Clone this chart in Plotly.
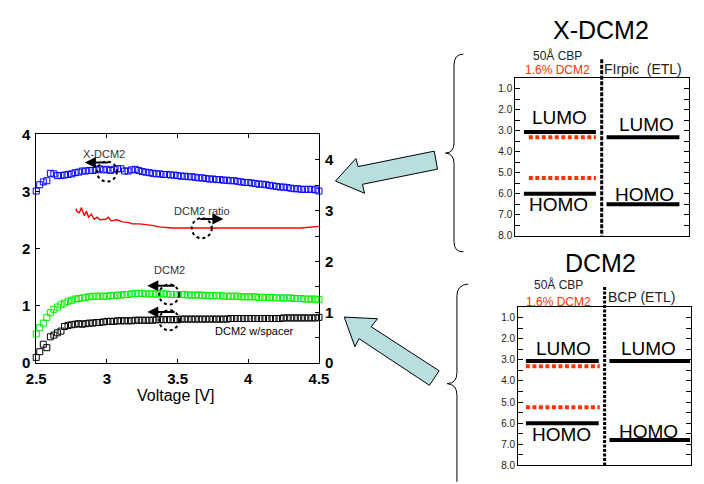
import plotly.graph_objects as go

W, H = 704, 484
FONT = "Liberation Sans, Arial, sans-serif"

# ---------------- measured data ----------------
VOLTAGE = [2.500, 2.525, 2.550, 2.575, 2.600, 2.625, 2.650, 2.675, 2.700, 2.725,
           2.750, 2.775, 2.800, 2.825, 2.850, 2.875, 2.900, 2.925, 2.950, 2.975,
           3.000, 3.025, 3.050, 3.075, 3.100, 3.125, 3.150, 3.175, 3.200, 3.225,
           3.250, 3.275, 3.300, 3.325, 3.350, 3.375, 3.400, 3.425, 3.450, 3.475,
           3.500, 3.525, 3.550, 3.575, 3.600, 3.625, 3.650, 3.675, 3.700, 3.725,
           3.750, 3.775, 3.800, 3.825, 3.850, 3.875, 3.900, 3.925, 3.950, 3.975,
           4.000, 4.025, 4.050, 4.075, 4.100, 4.125, 4.150, 4.175, 4.200, 4.225,
           4.250, 4.275, 4.300, 4.325, 4.350, 4.375, 4.400, 4.425, 4.450, 4.475,
           4.500]

X_DCM2 = [3.01, 3.12, 3.17, 3.19, 3.32, 3.31, 3.28, 3.28, 3.29, 3.30,
          3.31, 3.33, 3.34, 3.36, 3.36, 3.37, 3.37, 3.38, 3.40, 3.38,
          3.39, 3.37, 3.39, 3.40, 3.40, 3.36, 3.36, 3.38, 3.39, 3.37,
          3.35, 3.34, 3.33, 3.32, 3.31, 3.31, 3.30, 3.30, 3.29, 3.29,
          3.28, 3.27, 3.27, 3.26, 3.26, 3.25, 3.24, 3.24, 3.23, 3.22,
          3.22, 3.21, 3.21, 3.20, 3.20, 3.19, 3.19, 3.18, 3.17, 3.16,
          3.16, 3.15, 3.14, 3.13, 3.13, 3.12, 3.11, 3.10, 3.09, 3.08,
          3.08, 3.07, 3.06, 3.05, 3.05, 3.04, 3.04, 3.04, 3.04, 3.03,
          3.01]

DCM2 = [0.51, 0.62, 0.70, 0.80, 0.88, 0.94, 0.98, 1.02, 1.05, 1.08,
        1.10, 1.12, 1.13, 1.14, 1.15, 1.16, 1.17, 1.17, 1.17, 1.17,
        1.17, 1.18, 1.18, 1.19, 1.19, 1.20, 1.20, 1.21, 1.22, 1.22,
        1.22, 1.21, 1.21, 1.21, 1.21, 1.21, 1.21, 1.21, 1.20, 1.20,
        1.20, 1.20, 1.20, 1.19, 1.19, 1.19, 1.19, 1.19, 1.18, 1.18,
        1.18, 1.18, 1.18, 1.17, 1.17, 1.17, 1.17, 1.17, 1.16, 1.16,
        1.16, 1.16, 1.16, 1.15, 1.15, 1.15, 1.15, 1.15, 1.14, 1.14,
        1.14, 1.14, 1.14, 1.13, 1.13, 1.13, 1.12, 1.12, 1.12, 1.12,
        1.11]

DCM2_SPACER = [0.10, 0.20, 0.33, 0.27, 0.46, 0.49, 0.53, 0.56, 0.64, 0.66,
               0.67, 0.68, 0.69, 0.68, 0.69, 0.70, 0.70, 0.71, 0.71, 0.72,
               0.73, 0.73, 0.73, 0.74, 0.74, 0.74, 0.74, 0.74, 0.75, 0.75,
               0.75, 0.75, 0.75, 0.75, 0.76, 0.76, 0.76, 0.76, 0.76, 0.76,
               0.76, 0.77, 0.77, 0.77, 0.77, 0.77, 0.77, 0.77, 0.77, 0.77,
               0.77, 0.77, 0.77, 0.77, 0.77, 0.78, 0.78, 0.78, 0.78, 0.78,
               0.78, 0.78, 0.78, 0.78, 0.78, 0.78, 0.78, 0.78, 0.78, 0.78,
               0.79, 0.79, 0.79, 0.79, 0.79, 0.79, 0.79, 0.79, 0.79, 0.79,
               0.80]

RATIO_V = [2.78, 2.79, 2.805, 2.82, 2.84, 2.855, 2.87, 2.89, 2.91, 2.93,
           2.95, 2.99, 3.01, 3.03, 3.07, 3.11, 3.15, 3.18, 3.23, 3.27,
           3.32, 3.37, 3.41, 3.46, 3.57, 3.69, 3.80, 3.92, 4.03, 4.15,
           4.26, 4.37, 4.50]
RATIO = [3.04, 2.98, 2.96, 3.06, 2.90, 2.99, 2.87, 2.93, 2.83, 2.87,
         2.82, 2.83, 2.87, 2.80, 2.82, 2.78, 2.77, 2.74, 2.74, 2.73,
         2.71, 2.68, 2.67, 2.66, 2.66, 2.66, 2.65, 2.65, 2.65, 2.65,
         2.65, 2.66, 2.69]

# energy levels (eV below vacuum)
CBP_LEVELS = [3.05, 6.0]          # LUMO, HOMO
DOPANT_LEVELS = [3.3, 5.25]       # 1.6% DCM2 LUMO, HOMO
FIRPIC_LEVELS = [3.3, 6.5]
BCP_LEVELS = [3.05, 6.8]
ENERGY_TICKS = [1.0, 2.0, 3.0, 4.0, 5.0, 6.0, 7.0, 8.0]


def px(x):
    return x / W


def py(y):
    return 1 - y / H


fig = go.Figure()

# ---------------- main plot ----------------
fig.add_trace(go.Scatter(x=VOLTAGE, y=X_DCM2, mode="markers", cliponaxis=False,
                         marker=dict(symbol="square-open", size=6, color="#0000ff",
                                     line=dict(width=1))))
fig.add_trace(go.Scatter(x=VOLTAGE, y=DCM2, mode="markers", cliponaxis=False,
                         marker=dict(symbol="square-open", size=6, color="#00ee00",
                                     line=dict(width=1))))
fig.add_trace(go.Scatter(x=VOLTAGE, y=DCM2_SPACER, mode="markers", cliponaxis=False,
                         marker=dict(symbol="square-open", size=6, color="#000000",
                                     line=dict(width=1))))
fig.add_trace(go.Scatter(x=RATIO_V, y=RATIO, mode="lines", yaxis="y2",
                         line=dict(color="#ff0000", width=1.4)))

# ---------------- energy diagrams ----------------
def levels(xa, ya, left_black, left_red, right_black, right_vals, left_vals, dop_vals):
    for v in left_vals:
        fig.add_trace(go.Scatter(x=list(left_black), y=[v, v], mode="lines",
                                 xaxis=xa, yaxis=ya,
                                 line=dict(color="black", width=4)))
    for v in dop_vals:
        fig.add_trace(go.Scatter(x=list(left_red), y=[v, v], mode="lines",
                                 xaxis=xa, yaxis=ya,
                                 line=dict(color="#ff3300", width=4, dash="4px,2.5px")))
    for v in right_vals:
        fig.add_trace(go.Scatter(x=list(right_black), y=[v, v], mode="lines",
                                 xaxis=xa, yaxis=ya,
                                 line=dict(color="black", width=4)))


levels("x3", "y3", (0.05, 0.464), (0.078, 0.464), (0.525, 0.944),
       FIRPIC_LEVELS, CBP_LEVELS, DOPANT_LEVELS)
levels("x4", "y4", (0.045, 0.466), (0.045, 0.472), (0.528, 0.994),
       BCP_LEVELS, CBP_LEVELS, DOPANT_LEVELS)

axis_font = dict(family=FONT, size=15, color="black", weight="bold")
diag_y = dict(range=[8.0, 0.5], showline=True, linecolor="black", linewidth=1,
              mirror="allticks", ticks="inside", ticklen=5, tickcolor="black",
              tickvals=ENERGY_TICKS, ticktext=[f"{t:.1f}" for t in ENERGY_TICKS],
              minor=dict(dtick=0.5, tick0=0.5, ticks="inside", ticklen=5,
                         tickcolor="black", showgrid=False),
              showgrid=False, zeroline=False,
              tickfont=dict(family=FONT, size=10, color="#222"))
diag_x = dict(range=[0, 1], showline=True, linecolor="black", linewidth=1,
              mirror=True, ticks="", showticklabels=False, showgrid=False,
              zeroline=False)

fig.update_layout(
    width=W, height=H, margin=dict(l=0, r=0, t=0, b=0),
    paper_bgcolor="white", plot_bgcolor="white", showlegend=False,
    xaxis=dict(domain=[px(27), px(318)], range=[2.5, 4.5], dtick=0.5,
               showline=True, linecolor="black", linewidth=1, mirror="ticks",
               ticks="inside", ticklen=4, tickcolor="black", showgrid=False,
               zeroline=False, tickfont=axis_font, ticklabelstandoff=2),
    yaxis=dict(domain=[py(367), py(130)], range=[0, 4], dtick=1,
               showline=True, linecolor="black", linewidth=1,
               ticks="inside", ticklen=4, tickcolor="black", showgrid=False,
               zeroline=False, tickfont=axis_font, ticklabelstandoff=2),
    yaxis2=dict(overlaying="y", side="right", range=[0, 4.5], dtick=1,
                showline=True, linecolor="black", linewidth=1,
                ticks="inside", ticklen=4, tickcolor="black",
                minor=dict(dtick=0.5, ticks="inside", ticklen=4, tickcolor="black"),
                showgrid=False, zeroline=False, tickfont=axis_font,
                ticklabelstandoff=2),
    xaxis3=dict(domain=[px(520), px(699)], anchor="y3", **diag_x),
    yaxis3=dict(domain=[py(235), py(72)], anchor="x3", **diag_y),
    xaxis4=dict(domain=[px(523), px(701)], anchor="y4", **diag_x),
    yaxis4=dict(domain=[py(473), py(309)], anchor="x4", **diag_y),
)

# ---------------- annotations: main plot ----------------
ann = []


def text(x, y, s, size, color="black", xref="paper", yref="paper"):
    ann.append(dict(x=x, y=y, xref=xref, yref=yref, text=s, showarrow=False,
                    xanchor="center", yanchor="middle",
                    font=dict(family=FONT, size=size, color=color)))


def arrow(x_head, x_tail, y):
    ann.append(dict(x=x_head, y=y, ax=x_tail, ay=y, xref="x", yref="y",
                    axref="x", ayref="y", text="", showarrow=True,
                    arrowhead=2, arrowsize=1.1, arrowwidth=2, arrowcolor="black"))


text(2.977, 3.65, "X-DCM2", 11, "#333", "x", "y")
text(3.671, 2.66, "DCM2 ratio", 11, "#333", "x", "y")
text(3.446, 1.62, "DCM2", 11, "#333", "x", "y")
text(4.042, 0.56, "DCM2 w/spacer", 11, "black", "x", "y")
arrow(2.844, 3.02, 3.51)
arrow(3.824, 3.650, 2.52)
arrow(3.286, 3.49, 1.354)
arrow(3.286, 3.49, 0.896)
text(px(170), py(401), "Voltage [V]", 16)

shapes = []
for cx, cy in [(3.0, 3.35), (3.671, 2.36), (3.44, 1.20), (3.44, 0.75)]:
    shapes.append(dict(type="circle", xref="x", yref="y", xsizemode="pixel",
                       ysizemode="pixel", xanchor=cx, yanchor=cy,
                       x0=-10, x1=10, y0=-10, y1=10,
                       line=dict(color="black", width=2, dash="dot")))

# ---------------- annotations: energy diagrams ----------------
text(px(608), py(22), "X-DCM2", 25)
text(px(563), py(48), "50Å CBP", 12, "#222")
text(px(563), py(63), "1.6% DCM2", 12, "#ff3300")
text(px(652), py(62), "FIrpic  (ETL)", 14, "#222")
text(px(566), py(112), "LUMO", 19)
text(px(565), py(203), "HOMO", 19)
text(px(655), py(120), "LUMO", 19)
text(px(653), py(192), "HOMO", 19)

text(px(608), py(263), "DCM2", 25)
text(px(565), py(286), "50Å CBP", 12, "#222")
text(px(565), py(304), "1.6% DCM2", 12, "#ff3300")
text(px(650), py(299), "BCP (ETL)", 14, "#222")
text(px(570), py(352), "LUMO", 19)
text(px(568), py(441), "HOMO", 19)
text(px(657), py(352), "LUMO", 19)
text(px(657), py(438), "HOMO", 19)

# dashed dividers between layers
shapes.append(dict(type="line", xref="paper", yref="paper",
                   x0=px(609), x1=px(609), y0=py(52), y1=py(235),
                   line=dict(color="black", width=3, dash="4px,1.5px")))
shapes.append(dict(type="line", xref="paper", yref="paper",
                   x0=px(612), x1=px(612), y0=py(288), y1=py(473),
                   line=dict(color="black", width=3, dash="3px,1.5px")))


def path(start, segments, close=False):
    parts = [f"M{px(start[0]):.5f},{py(start[1]):.5f}"]
    for cmd, pts in segments:
        parts.append(cmd + " ".join(f"{px(x):.5f},{py(y):.5f}" for x, y in pts))
    if close:
        parts.append("Z")
    return " ".join(parts)


# braces
top_brace = path((466.7, 46.7), [("Q", [(457, 47), (457, 58)]),
                                 ("L", [(457, 139)]),
                                 ("Q", [(457, 149), (448.3, 149.3)]),
                                 ("Q", [(457, 150), (457, 160)]),
                                 ("L", [(457, 241)]),
                                 ("Q", [(457, 252), (466.7, 251.7)])])
bot_brace = path((471.7, 285), [("Q", [(460, 286), (460, 297)]),
                                ("L", [(460, 377)]),
                                ("Q", [(460, 388), (450, 388.3)]),
                                ("Q", [(460, 389), (460, 400)]),
                                ("L", [(460, 490)])])
for p in (top_brace, bot_brace):
    shapes.append(dict(type="path", xref="paper", yref="paper", path=p,
                       line=dict(color="black", width=1)))

# block arrows
top_pts = [(356, 155), (358.3, 163.3), (436.7, 147.3), (440, 166),
           (362.7, 181.7), (365, 191)]
bot_pts = [(378.3, 321), (371.7, 329.3), (441.7, 375), (431.7, 390),
           (359.3, 341.7), (355, 350)]
top_arrow = path((335, 178.3), [("L", [p]) for p in top_pts], close=True)
bot_arrow = path((344, 319.3), [("L", [p]) for p in bot_pts], close=True)
for p in (top_arrow, bot_arrow):
    shapes.append(dict(type="path", xref="paper", yref="paper", path=p,
                       fillcolor="#b9dee0", line=dict(color="black", width=1)))

fig.update_layout(annotations=ann, shapes=shapes)
fig.write_html("out.html")
